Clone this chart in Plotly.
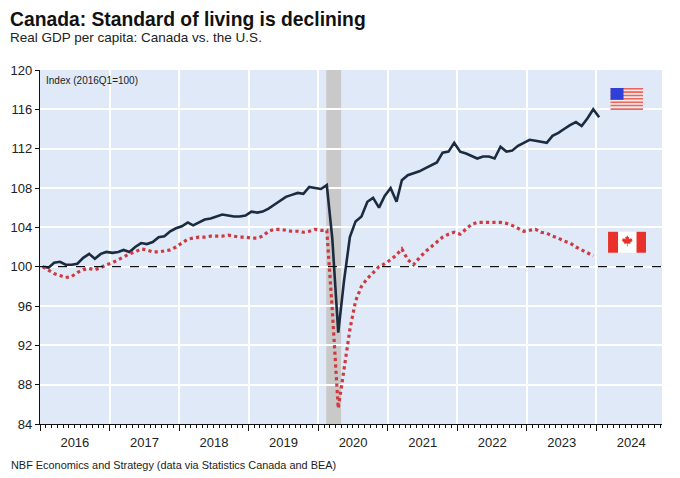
import plotly.graph_objects as go
import pandas as pd

# ---- data (monthly index, 2016Q1 = 100) ----
us_values = [
    100.0, 99.9, 100.4, 100.5, 100.2, 100.2, 100.3, 100.9, 101.3, 100.8, 101.3, 101.5,
    101.4, 101.5, 101.7, 101.5, 102.0, 102.4, 102.3, 102.5, 103.0, 103.1, 103.6, 103.9,
    104.1, 104.5, 104.2, 104.5, 104.8, 104.9, 105.1, 105.3, 105.2, 105.1, 105.1, 105.2,
    105.6, 105.5, 105.6, 105.9, 106.3, 106.7, 107.1, 107.3, 107.5, 107.4, 108.1, 108.0,
    107.9, 108.3, 102.8, 93.3, 98.5, 103.0, 104.6, 105.1, 106.6, 107.0, 106.0, 107.2,
    108.0, 106.6, 108.8, 109.3, 109.5, 109.7, 110.0, 110.3, 110.6, 111.6, 111.7, 112.6,
    111.7, 111.5, 111.3, 111.0, 111.2, 111.2, 111.0, 112.2, 111.7, 111.8, 112.3, 112.6,
    112.9, 112.8, 112.7, 112.6, 113.3, 113.6, 114.0, 114.4, 114.7, 114.3, 115.1, 116.0,
    115.2,
]
canada_values = [
    100.0, 99.6, 99.3, 99.1, 98.9, 99.0, 99.4, 99.7, 99.8, 99.7, 99.9, 100.2,
    100.4, 100.7, 101.0, 101.3, 101.5, 101.8, 101.7, 101.5, 101.5, 101.6, 101.7, 102.0,
    102.4, 102.8, 102.9, 103.0, 103.0, 103.1, 103.1, 103.1, 103.2, 103.1, 103.0, 103.0,
    102.9, 102.9, 103.1, 103.6, 103.8, 103.8, 103.7, 103.6, 103.6, 103.5, 103.6, 103.8,
    103.7, 103.7, 95.5, 85.6, 89.5, 93.6, 96.5, 98.0, 98.8, 99.4, 100.0, 100.3,
    100.7, 101.2, 101.8, 100.7, 100.2, 100.9, 101.5, 102.0, 102.5, 103.0, 103.3, 103.5,
    103.3, 103.8, 104.3, 104.5, 104.5, 104.5, 104.5, 104.5, 104.4, 104.2, 103.9, 103.6,
    103.7, 103.8, 103.5, 103.4, 103.1, 102.9, 102.6, 102.4, 102.0, 101.7, 101.4, 101.1,
]
start_month = "2016-01-01"
year_labels = ["2016", "2017", "2018", "2019", "2020", "2021", "2022", "2023", "2024"]
y_ticks = [84, 88, 92, 96, 100, 104, 108, 112, 116, 120]

us_dates = pd.date_range(start_month, periods=len(us_values), freq="MS") + pd.Timedelta(days=14)
ca_dates = pd.date_range(start_month, periods=len(canada_values), freq="MS") + pd.Timedelta(days=14)

# ---- layout geometry (page pixels; the page body adds an 8px offset) ----
OFF = 8
W, H = 680 - OFF, 478 - OFF
L, R, T, B = 39.5 - OFF, 662.0 - OFF, 70.0 - OFF, 424.5 - OFF
def px(x):
    return (x - OFF - L) / (R - L)
def py(y):
    return (B - (y - OFF)) / (B - T)

PLOT_BG = "#dfe9f8"
NAVY = "#1b2b40"
RED = "#cf3a40"
FONT = "Liberation Sans, Arial, sans-serif"

fig = go.Figure()
fig.add_trace(go.Scatter(x=us_dates, y=us_values, mode="lines",
                         line=dict(color=NAVY, width=2.6), name="U.S.",
                         hoverinfo="x+y"))
fig.add_trace(go.Scatter(x=ca_dates, y=canada_values, mode="lines",
                         line=dict(color=RED, width=3.2, dash="dot"), name="Canada",
                         hoverinfo="x+y"))

shapes = []
# recession shading
shapes.append(dict(type="rect", xref="x", yref="paper", x0="2020-02-12", x1="2020-04-30",
                   y0=0, y1=1, fillcolor="#c9c9c9", line=dict(width=0), layer="below"))
# 100 reference line
shapes.append(dict(type="line", xref="paper", yref="y", x0=0, x1=1, y0=100, y1=100,
                   line=dict(color="#111111", width=1.2, dash="dash")))

# US flag
fx0, fx1, fy0, fy1 = 610.5, 643.0, 88.0, 110.0
n = 13
sh = (fy1 - fy0) / n
for i in range(n):
    col = "#e8675e" if i % 2 == 0 else "#fbe9e6"
    shapes.append(dict(type="rect", xref="paper", yref="paper",
                       x0=px(fx0), x1=px(fx1), y0=py(fy0 + i * sh), y1=py(fy0 + (i + 1) * sh),
                       fillcolor=col, line=dict(width=0)))
shapes.append(dict(type="rect", xref="paper", yref="paper",
                   x0=px(fx0), x1=px(623.5), y0=py(fy0), y1=py(fy0 + 7 * sh),
                   fillcolor="#2f3fd8", line=dict(width=0)))

# Canada flag
cx0, cx1, cy0, cy1 = 608.0, 646.0, 232.0, 253.0
shapes.append(dict(type="rect", xref="paper", yref="paper", x0=px(cx0), x1=px(cx1),
                   y0=py(cy0), y1=py(cy1), fillcolor="#ffffff", line=dict(width=0)))
shapes.append(dict(type="rect", xref="paper", yref="paper", x0=px(cx0), x1=px(618),
                   y0=py(cy0), y1=py(cy1), fillcolor="#e8312b", line=dict(width=0)))
shapes.append(dict(type="rect", xref="paper", yref="paper", x0=px(636.5), x1=px(cx1),
                   y0=py(cy0), y1=py(cy1), fillcolor="#e8312b", line=dict(width=0)))
leaf = [(0, 1.0), (0.15, 0.7), (0.3, 0.78), (0.25, 0.35), (0.5, 0.55), (0.55, 0.45),
        (0.8, 0.5), (0.7, 0.25), (0.85, 0.2), (0.45, -0.15), (0.5, -0.3), (0.05, -0.25),
        (0.05, -0.75), (-0.05, -0.75), (-0.05, -0.25), (-0.5, -0.3), (-0.45, -0.15),
        (-0.85, 0.2), (-0.7, 0.25), (-0.8, 0.5), (-0.55, 0.45), (-0.5, 0.55), (-0.25, 0.35),
        (-0.3, 0.78), (-0.15, 0.7)]
lcx, lcy, ls = 627.2, 242.0, 6.5
path = "M " + " L ".join(f"{px(lcx + a * ls):.5f},{py(lcy - b * ls):.5f}" for a, b in leaf) + " Z"
shapes.append(dict(type="path", xref="paper", yref="paper", path=path,
                   fillcolor="#e8312b", line=dict(width=0)))

annotations = [
    dict(text="<b>Canada: Standard of living is declining</b>", xref="paper", yref="paper",
         x=px(8.2), y=py(19), xanchor="left", yanchor="middle", showarrow=False, borderpad=0,
         font=dict(size=19.3, color="#111111", family=FONT)),
    dict(text="Real GDP per capita: Canada vs. the U.S.", xref="paper", yref="paper",
         x=px(8.2), y=py(37), xanchor="left", yanchor="middle", showarrow=False, borderpad=0,
         font=dict(size=13.5, color="#222222", family=FONT)),
    dict(text="Index (2016Q1=100)", xref="paper", yref="paper",
         x=px(44), y=py(81), xanchor="left", yanchor="middle", showarrow=False,
         font=dict(size=10, color="#222222", family=FONT)),
    dict(text="NBF Economics and Strategy (data via Statistics Canada and BEA)", xref="paper",
         yref="paper", x=px(9), y=py(466), xanchor="left", yanchor="middle", showarrow=False,
         borderpad=0, font=dict(size=10.9, color="#222222", family=FONT)),
]

fig.update_layout(
    width=W, height=H,
    margin=dict(l=L, r=W - R, t=T, b=H - B, pad=0, autoexpand=False),
    paper_bgcolor="#ffffff", plot_bgcolor=PLOT_BG,
    showlegend=False,
    shapes=shapes, annotations=annotations,
    font=dict(family=FONT, color="#222222"),
)
fig.update_xaxes(
    type="date", range=["2016-01-01", "2024-12-10"], automargin=False,
    tick0="2016-01-01", dtick="M12", ticklabelmode="period",
    tickformat="%Y", ticks="outside", ticklen=6, tickwidth=1, tickcolor="#111111",
    showline=True, linecolor="#111111", linewidth=1.2, mirror=False,
    showgrid=True, gridcolor="#ffffff", gridwidth=1.5,
    tickfont=dict(size=13, color="#222222", family=FONT),
    minor=dict(dtick="M1", tick0="2016-01-01", ticks="outside", ticklen=3,
               tickcolor="#111111", showgrid=False),
    zeroline=False,
)
fig.update_yaxes(
    range=[84, 120], tickvals=y_ticks, ticktext=[str(v) for v in y_ticks], automargin=False,
    ticks="outside", ticklen=4, tickcolor="#111111",
    showline=True, linecolor="#111111", linewidth=1.2,
    showgrid=True, gridcolor="#ffffff", gridwidth=1.5,
    tickfont=dict(size=13, color="#222222", family=FONT),
    zeroline=False,
)

fig.write_html("out.html")
